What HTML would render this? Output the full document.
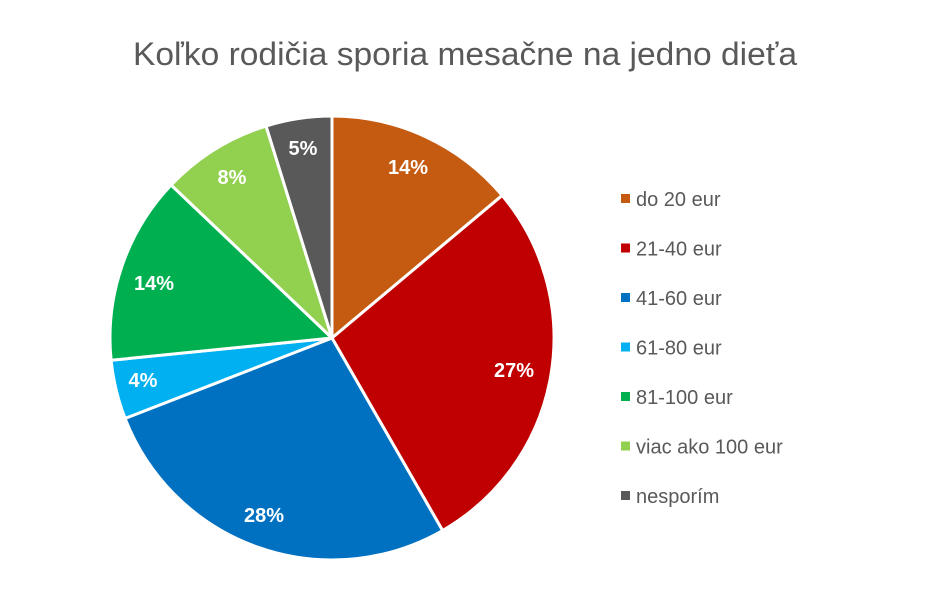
<!DOCTYPE html>
<html><head><meta charset="utf-8"><style>
body{margin:0;background:#fff;width:930px;height:602px;overflow:hidden;font-family:"Liberation Sans",Carlito,sans-serif}
</style></head><body>
<svg id="s" width="930" height="602" xmlns="http://www.w3.org/2000/svg">
<text x="133" y="65" textLength="664" lengthAdjust="spacingAndGlyphs" font-size="32" fill="#595959" font-family="Liberation Sans, sans-serif">Koľko rodičia sporia mesačne na jedno dieťa</text>
</svg>
<script>
var s=document.getElementById('s'),cx=332,cy=338,r=222;
var cum=[0,13.9,41.7,69.1,73.4,87.1,95.2,100];
var cols=['#C55A11','#C00000','#0070C0','#00B0F0','#00B050','#92D050','#595959'];
var labs=['14%','27%','28%','4%','14%','8%','5%'];
var names=['do 20 eur','21-40 eur','41-60 eur','61-80 eur','81-100 eur','viac ako 100 eur','nesporím'];
var lp=[[408,167],[514,370],[264,515],[143,380],[154,283],[232,177],[303,148]];
function pt(p,rr){var a=p/100*2*Math.PI;return [cx+rr*Math.sin(a),cy-rr*Math.cos(a)];}
var h='';
for(var i=0;i<7;i++){var a=pt(cum[i],r),b=pt(cum[i+1],r),big=(cum[i+1]-cum[i])>50?1:0;
h+='<path d="M'+cx+','+cy+' L'+a[0]+','+a[1]+' A'+r+','+r+' 0 '+big+' 1 '+b[0]+','+b[1]+' Z" fill="'+cols[i]+'" stroke="#fff" stroke-width="3" stroke-linejoin="round"/>';}
for(var i=0;i<7;i++){h+='<text x="'+lp[i][0]+'" y="'+(lp[i][1]+7)+'" text-anchor="middle" font-size="20" font-weight="bold" fill="#fff">'+labs[i]+'</text>';
var y=199+i*49.5;h+='<rect x="621" y="'+(y-5)+'" width="9" height="9" fill="'+cols[i]+'"/><text x="636" y="'+(y+7)+'" font-size="20" fill="#595959">'+names[i]+'</text>';}
s.insertAdjacentHTML('beforeend',h);
</script>
</body></html>
